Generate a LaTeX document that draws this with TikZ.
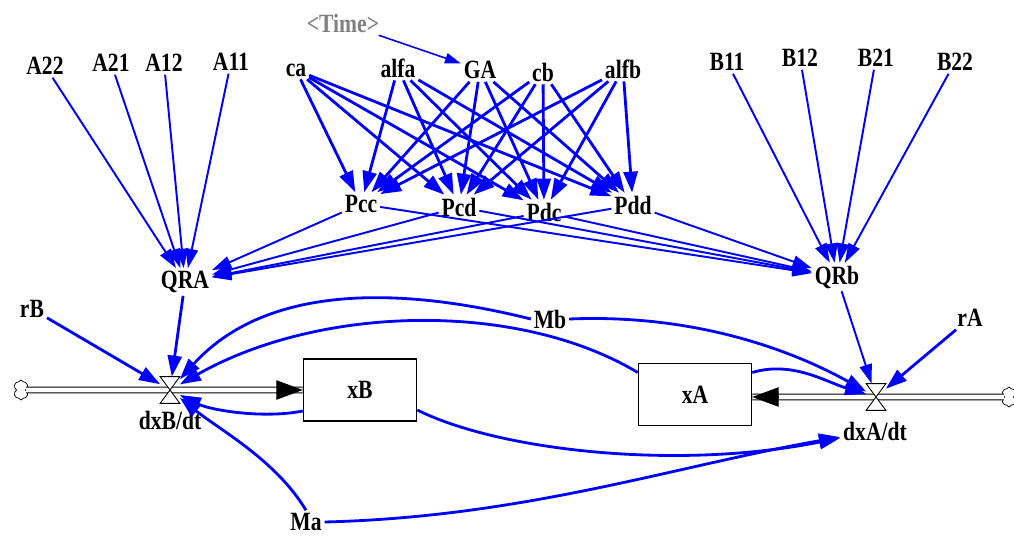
\documentclass[tikz,border=0pt]{standalone}
\usepackage{fontspec}
\newfontfamily\lblfam{Liberation Serif}[FakeStretch=0.82]
\newcommand{\lblfont}{\fontsize{15}{17}\lblfam\bfseries}
\usetikzlibrary{arrows.meta,shapes.symbols,calc}
\definecolor{vblue}{RGB}{0,0,255}
\definecolor{tgray}{RGB}{128,128,128}
\begin{document}
\begin{tikzpicture}[x=0.02cm,y=-0.02cm,
  var/.style={font=\lblfont,inner sep=1.5pt},
  stockbox/.style={draw,line width=0.6pt,minimum width=2.27cm,minimum height=1.24cm,font=\lblfont},
  valvebox/.style={inner sep=0pt,minimum width=0.38cm,minimum height=0.52cm},
  valveshape/.style={draw,fill=white,line width=0.5pt},
  cloudnode/.style={cloud,draw,fill=white,line width=0.4pt,cloud puffs=6,cloud puff arc=150,aspect=0.75,inner sep=0pt,minimum width=0.3cm,minimum height=0.4cm},
  pipe/.style={draw=black,line width=0.6pt,double=white,double distance=2.6pt},
  pipetip/.style={line width=0.6pt,-{Triangle[length=15pt,width=11pt]}},
  conn/.style={draw=vblue,line width=1.6pt,-{Triangle[length=12pt,width=8pt]}},
  mconn/.style={draw=vblue,line width=1.1pt,-{Triangle[length=11pt,width=7pt]}},
  tconn/.style={draw=vblue,line width=0.9pt,-{Triangle[length=9pt,width=6pt]}}]
\useasboundingbox (0,0) rectangle (1014,537);

% variables
\node[var,text=tgray] (Time) at (343,23) {<Time>};
\node[var] (A22) at (45,66) {A22};
\node[var] (A21) at (111,63) {A21};
\node[var] (A12) at (164,63) {A12};
\node[var] (A11) at (231,62) {A11};
\node[var] (ca) at (296,70) {ca};
\node[var] (alfa) at (398,68) {alfa};
\node[var] (GA) at (480,70) {GA};
\node[var] (cb) at (543,72) {cb};
\node[var] (alfb) at (623,69) {alfb};
\node[var] (B11) at (727,62) {B11};
\node[var] (B12) at (800,58) {B12};
\node[var] (B21) at (876,58) {B21};
\node[var] (B22) at (955,62) {B22};
\node[var] (Pcc) at (361,204) {Pcc};
\node[var] (Pcd) at (459,207) {Pcd};
\node[var] (Pdc) at (544,212) {Pdc};
\node[var] (Pdd) at (633,205) {Pdd};
\node[var] (QRA) at (185,282) {QRA};
\node[var] (QRb) at (837,277) {QRb};
\node[var] (rB) at (32,309) {rB};
\node[var] (Mb) at (550,319) {Mb};
\node[var] (rA) at (970,318) {rA};
\node[var] (Ma) at (306,522) {Ma};
\node[var] (dxB) at (170,420) {dxB/dt};
\node[var] (dxA) at (875,431) {dxA/dt};

% stocks, valves, clouds
\node[stockbox] (xB) at (360,390) {xB};
\node[stockbox] (xA) at (695,394.5) {xA};
\node[valvebox] (vB) at (170,390) {};
\node[valvebox] (vA) at (876,397) {};
\node[cloudnode] (cloudL) at (21,390) {};
\node[cloudnode] (cloudR) at (1009,397) {};

% pipes
\draw[pipe] (cloudL.east) -- (xB.west);
\draw[pipetip] ($(xB.west)+(-26,0)$) -- (xB.west);
\draw[pipe] (cloudR.west) -- (xA.east |- vA);
\draw[pipetip] ($(xA.east |- vA)+(26,0)$) -- (xA.east |- vA);
\draw[valveshape] (vB.north west) -- (vB.north east) -- (vB.south west) -- (vB.south east) -- cycle;
\draw[valveshape] (vA.north west) -- (vA.north east) -- (vA.south west) -- (vA.south east) -- cycle;

% Time -> GA
\draw[tconn] (Time) -- (GA);

% top -> P
\foreach \s in {ca,alfa,GA,cb,alfb}
  \foreach \t in {Pcc,Pcd,Pdc,Pdd}
    \draw[conn] (\s) -- (\t);

% A -> QRA, B -> QRb
\foreach \s in {A22,A21,A12,A11}
  \draw[mconn] (\s) -- (QRA);
\foreach \s in {B11,B12,B21,B22}
  \draw[mconn] (\s) -- (QRb);

% P -> QR
\foreach \p in {Pcc,Pcd,Pdc,Pdd} {
  \draw[mconn] (\p) -- (QRA);
  \draw[mconn] (\p) -- (QRb);
}

% into valves
\draw[conn] (QRA) -- (vB);
\draw[conn] (rB) -- (vB);
\draw[mconn] (QRb) -- (vA);
\draw[conn] (rA) -- (vA);

% curved links
\draw[conn] (Mb.west) .. controls +(-120,-30) and +(100,-110) .. (vB);
\draw[conn] ($(xA.west)+(0,-22)$) .. controls +(-120,-72) and +(150,-85) .. (vB);
\draw[conn] (Mb.east) .. controls +(120,-5) and +(-90,-50) .. (vA);
\draw[conn] ($(xA.east)+(0,-22)$) .. controls +(40,-12) and +(-50,-15) .. (vA);
\draw[conn] ($(xB.west)+(0,21)$) .. controls +(-40,8) and +(40,20) .. (vB);
\draw[conn] (Ma.north) .. controls +(-30,-50) and +(50,40) .. (vB);
\draw[conn] (Ma.east) .. controls +(200,-5) and +(-200,35) .. (dxA);
\draw[conn] ($(xB.east)+(0,20)$) .. controls +(80,40) and +(-200,40) .. (dxA);
\end{tikzpicture}
\end{document}
